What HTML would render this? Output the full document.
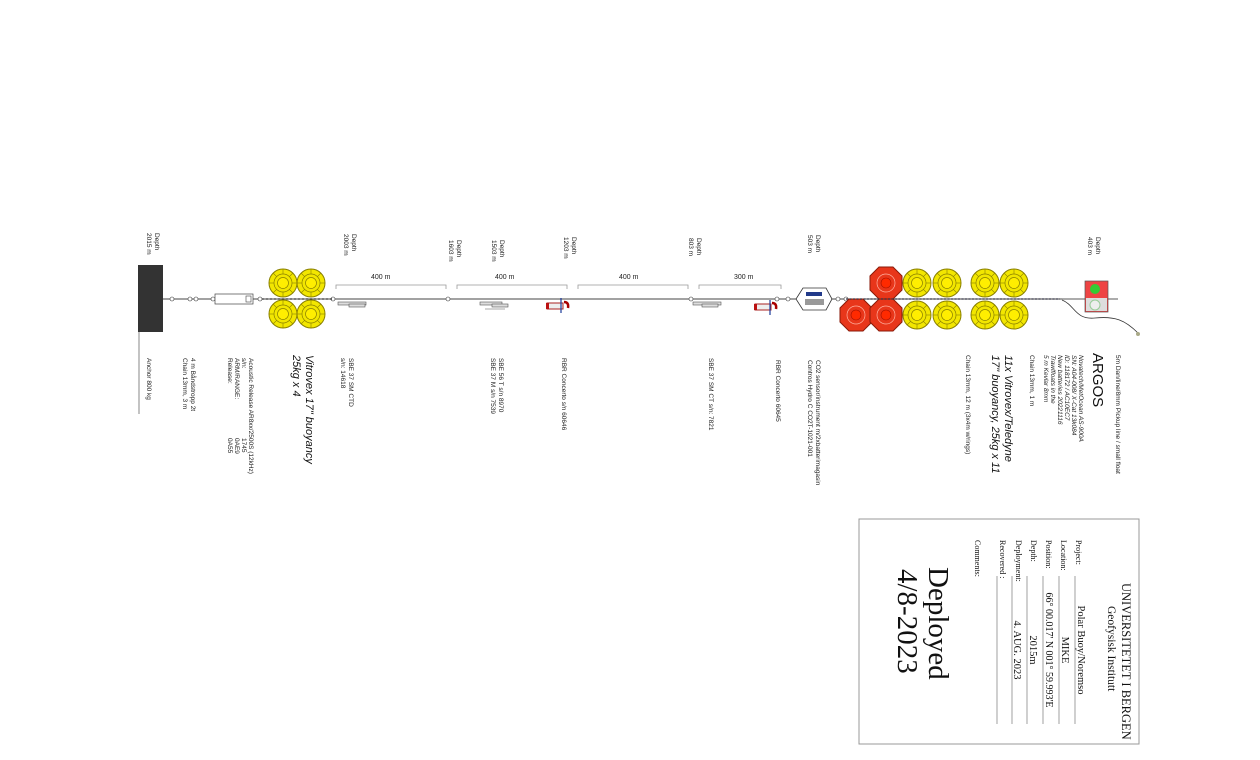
<!DOCTYPE html>
<html><head><meta charset="utf-8"><style>
html,body{margin:0;padding:0;background:#fff;}
svg{display:block;font-family:"Liberation Sans",sans-serif;}
.s{font-size:6.5px;fill:#222}
.m{font-size:11px;font-style:italic;fill:#111}
.r{font-family:"Liberation Serif",serif;fill:#111}
</style></head><body>
<svg width="1260" height="760" viewBox="0 0 1260 760" xmlns="http://www.w3.org/2000/svg">
<defs>
<g id="yb"><circle r="14" fill="#f2e600" stroke="#8a8000" stroke-width="1"/><circle r="9" fill="none" stroke="#8a8000" stroke-width="0.7"/><circle r="5.5" fill="#ffee00" stroke="#8a8000" stroke-width="0.7"/>
<g stroke="#8a8000" stroke-width="0.6"><line x1="0" y1="-14" x2="0" y2="-9"/><line x1="0" y1="14" x2="0" y2="9"/><line x1="-14" y1="0" x2="-9" y2="0"/><line x1="14" y1="0" x2="9" y2="0"/><line x1="-10" y1="-10" x2="-6.4" y2="-6.4"/><line x1="10" y1="10" x2="6.4" y2="6.4"/><line x1="-10" y1="10" x2="-6.4" y2="6.4"/><line x1="10" y1="-10" x2="6.4" y2="-6.4"/></g></g>
<g id="rb"><polygon points="-7,-16 7,-16 16,-7 16,7 7,16 -7,16 -16,7 -16,-7" fill="#e8361a" stroke="#8a1a08" stroke-width="1"/><circle r="9" fill="none" stroke="#ffb0a0" stroke-width="0.7"/><circle r="5" fill="#ff2a00" stroke="#a01000" stroke-width="0.6"/></g>
</defs>

<!-- main line -->
<line x1="163" y1="299" x2="1062" y2="299" stroke="#444" stroke-width="1"/>
<line x1="1062" y1="299" x2="1118" y2="299" stroke="#222" stroke-width="0.8"/>
<g stroke="#333" fill="#fff" stroke-width="0.6">
<circle cx="172" cy="299" r="2"/><circle cx="190" cy="299" r="2"/><circle cx="196" cy="299" r="2"/><circle cx="213" cy="299" r="2"/>
<circle cx="230" cy="299" r="2"/><circle cx="260" cy="299" r="2"/><circle cx="333" cy="299" r="2"/><circle cx="448" cy="299" r="2"/><circle cx="691" cy="299" r="2"/><circle cx="777" cy="299" r="2"/><circle cx="788" cy="299" r="2"/><circle cx="838" cy="299" r="2"/><circle cx="846" cy="299" r="2"/>
</g>
<!-- anchor -->
<rect x="138" y="265" width="25" height="67" fill="#333"/>
<line x1="139" y1="332" x2="139" y2="414" stroke="#555" stroke-width="0.7"/>
<!-- release -->
<rect x="215" y="294" width="38" height="10" fill="#fff" stroke="#444" stroke-width="0.7"/>
<rect x="246" y="296" width="5" height="6" fill="#fff" stroke="#444" stroke-width="0.6"/>
<!-- yellow buoys 4 -->
<use href="#yb" x="283" y="283"/><use href="#yb" x="311" y="283"/><use href="#yb" x="283" y="314"/><use href="#yb" x="311" y="314"/>
<line x1="262" y1="299" x2="333" y2="299" stroke="#333" stroke-width="1.2" stroke-dasharray="2,2"/>
<!-- brackets -->
<g stroke="#999" stroke-width="0.8" fill="none">
<polyline points="336,289 336,285 446,285 446,289"/>
<polyline points="457,289 457,285 567,285 567,289"/>
<polyline points="578,289 578,285 688,285 688,289"/>
<polyline points="699,289 699,285 781,285 781,289"/>
</g>
<g font-size="7" fill="#222">
<text x="371" y="279">400 m</text><text x="495" y="279">400 m</text><text x="619" y="279">400 m</text><text x="734" y="279">300 m</text>
</g>
<!-- instruments -->
<g stroke="#555" stroke-width="0.6" fill="#ddd">
<rect x="338" y="302" width="28" height="3"/><rect x="349" y="304" width="16" height="3"/>
<rect x="480" y="302" width="22" height="3"/><rect x="492" y="304" width="16" height="3"/><line x1="485" y1="309" x2="505" y2="309"/>
<rect x="693" y="302" width="28" height="3"/><rect x="702" y="304" width="16" height="3"/>
</g>
<rect x="547" y="303" width="16" height="6" fill="#eee" stroke="#a22"/><rect x="546" y="303" width="3" height="6" fill="#b11"/>
<line x1="561" y1="298" x2="561" y2="313" stroke="#1a3a9a" stroke-width="1.2"/><path d="M564 302 q5 0 4 6" stroke="#a00" stroke-width="2.5" fill="none"/>
<rect x="755" y="304" width="16" height="6" fill="#eee" stroke="#a22"/><rect x="754" y="304" width="3" height="6" fill="#b11"/>
<line x1="770" y1="300" x2="770" y2="315" stroke="#1a3a9a" stroke-width="1.2"/><path d="M772 303 q5 0 4 6" stroke="#a00" stroke-width="2.5" fill="none"/>
<!-- CO2 frame -->
<polygon points="796,299 803,288 826,288 832,299 826,310 803,310" fill="#fff" stroke="#333" stroke-width="0.8"/>
<rect x="806" y="292" width="16" height="4" fill="#223a8a"/><rect x="805" y="299" width="19" height="6" fill="#999"/>
<!-- buoys right -->
<use href="#rb" x="886" y="283"/><use href="#rb" x="856" y="315"/><use href="#rb" x="886" y="315"/>
<use href="#yb" x="917" y="283"/><use href="#yb" x="947" y="283"/><use href="#yb" x="917" y="315"/><use href="#yb" x="947" y="315"/>
<use href="#yb" x="985" y="283"/><use href="#yb" x="1014" y="283"/><use href="#yb" x="985" y="315"/><use href="#yb" x="1014" y="315"/>
<line x1="846" y1="299" x2="1060" y2="299" stroke="#334" stroke-width="1.2" stroke-dasharray="2,1.5"/>
<!-- argos -->
<rect x="1085" y="281" width="23" height="31" fill="#e44" stroke="#555" stroke-width="0.7"/>
<rect x="1086" y="298" width="21" height="13" fill="#ddd"/>
<circle cx="1095" cy="289" r="5" fill="#3c3"/><circle cx="1095" cy="305" r="5" fill="#eee" stroke="#9c9"/>
<path d="M1062 300 C1075 305,1075 320,1095 318 S1125 320,1138 333" stroke="#333" fill="none" stroke-width="0.8"/>
<circle cx="1138" cy="334" r="2" fill="#aa8"/>

<!-- rotated depth labels -->
<g class="s">
<text transform="translate(155,233) rotate(90)">Depth<tspan x="0" dy="8">2015 m</tspan></text>
<text transform="translate(352,234) rotate(90)">Depth<tspan x="0" dy="8">2003 m</tspan></text>
<text transform="translate(457,240) rotate(90)">Depth<tspan x="0" dy="8">1603 m</tspan></text>
<text transform="translate(500,240) rotate(90)">Depth<tspan x="0" dy="8">1503 m</tspan></text>
<text transform="translate(572,237) rotate(90)">Depth<tspan x="0" dy="8">1203 m</tspan></text>
<text transform="translate(697,238) rotate(90)">Depth<tspan x="0" dy="8">803 m</tspan></text>
<text transform="translate(816,235) rotate(90)">Depth<tspan x="0" dy="8">503 m</tspan></text>
<text transform="translate(1096,237) rotate(90)">Depth<tspan x="0" dy="8">403 m</tspan></text>

<text transform="translate(147,358) rotate(90)">Anchor 800 kg</text>
<text transform="translate(191,358) rotate(90)">4 m Båndstropp 2t<tspan x="0" dy="8">Chain 13mm, 3 m</tspan></text>
<text transform="translate(249,358) rotate(90)">Acoustic Release AR8xx/2500S (12kHz)<tspan x="0" dy="7">s/n:</tspan><tspan x="80">1745</tspan><tspan x="0" dy="7">ARM/RANGE:</tspan><tspan x="80">0AE9</tspan><tspan x="0" dy="7">Release:</tspan><tspan x="80">0A55</tspan></text>
<text transform="translate(349,358) rotate(90)">SBE 37 SM CTD<tspan x="0" dy="8">s/n: 14618</tspan></text>
<text transform="translate(499,358) rotate(90)">SBE 56 T s/n 8970<tspan x="0" dy="8">SBE 37 M s/n 7539</tspan></text>
<text transform="translate(562,358) rotate(90)">RBR Concerto s/n 60646</text>
<text transform="translate(709,358) rotate(90)">SBE 37 SM CT s/n:  7821</text>
<text transform="translate(776,360) rotate(90)">RBR Concerto 60645</text>
<text transform="translate(816,360) rotate(90)">CO2 sensor/instrument m/2xbatterimagasin<tspan x="0" dy="8">Contros Hydro C CO2T-1021-001</tspan></text>
<text transform="translate(1116,355) rotate(90)">5m Dan/line/8mm Pickup line / small float</text>
<text transform="translate(1079,355) rotate(90)" font-style="italic">Novatech/MetOcean AS-900A<tspan x="0" dy="7">SN: A04-008/ X-Cat 13k084</tspan><tspan x="0" dy="7">ID: 118172 / AC10EC7</tspan><tspan x="0" dy="7">New batteries 20221116</tspan><tspan x="0" dy="7">Trawlfloats in the</tspan><tspan x="0" dy="7">5 m Kevlar 8mm</tspan></text>
<text transform="translate(1030,355) rotate(90)">Chain 13mm,  1 m</text>
<text transform="translate(966,355) rotate(90)">Chain 13mm,  12 m (3x4m w/rings)</text>
</g>
<text class="m" transform="translate(306,355) rotate(90)">Vitrovex 17" buoyancy<tspan x="0" dy="13">25kg x 4</tspan></text>
<text transform="translate(1093,353) rotate(90)" font-size="15" fill="#111">ARGOS</text>
<text class="m" transform="translate(1005,355) rotate(90)">11x Vitrovex/Teledyne<tspan x="0" dy="13">17" buoyancy, 25kg x 11</tspan></text>

<!-- title block -->
<rect x="859" y="519" width="280" height="225" fill="#fff" stroke="#999" stroke-width="1"/>
<g class="r">
<text transform="translate(1122,583) rotate(90)" font-size="12.5">UNIVERSITETET I BERGEN</text>
<text transform="translate(1108,606) rotate(90)" font-size="11.5">Geofysisk Institutt</text>
<g font-size="8">
<text transform="translate(1076,540) rotate(90)">Project:</text>
<text transform="translate(1061,540) rotate(90)">Location:</text>
<text transform="translate(1046,540) rotate(90)">Position:</text>
<text transform="translate(1031,540) rotate(90)">Depth:</text>
<text transform="translate(1016,540) rotate(90)">Deployment:</text>
<text transform="translate(1000,540) rotate(90)">Recovered :</text>
<text transform="translate(975,540) rotate(90)">Comments:</text>
</g>
<g font-size="10.5" text-anchor="middle">
<text transform="translate(1078,650) rotate(90)">Polar Buoy/Noremso</text>
<text transform="translate(1062,650) rotate(90)">MIKE</text>
<text transform="translate(1046,650) rotate(90)" font-size="10">66° 00.017' N 001° 59.993'E</text>
<text transform="translate(1030,650) rotate(90)">2015m</text>
<text transform="translate(1014,650) rotate(90)">4. AUG. 2023</text>
</g>
<g stroke="#888" stroke-width="0.8">
<line x1="1075" y1="576" x2="1075" y2="724"/><line x1="1059" y1="576" x2="1059" y2="724"/><line x1="1043" y1="576" x2="1043" y2="724"/><line x1="1027" y1="576" x2="1027" y2="724"/><line x1="1012" y1="576" x2="1012" y2="724"/><line x1="997" y1="576" x2="997" y2="724"/>
</g>
<text transform="translate(929,567) rotate(90)" font-size="29">Deployed</text>
<text transform="translate(898,569) rotate(90)" font-size="29">4/8-2023</text>
</g>
</svg>
</body></html>
